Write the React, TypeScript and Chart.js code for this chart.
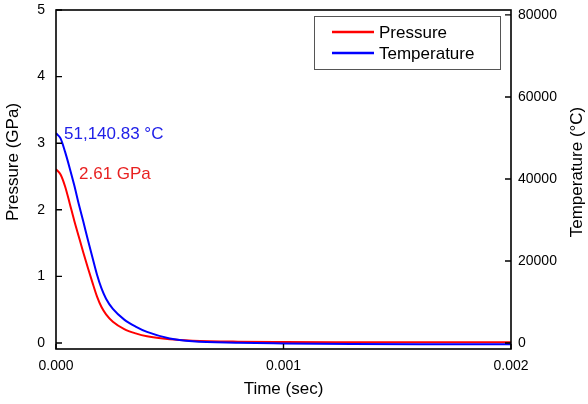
import React, { useEffect, useRef } from "react";
import { Chart, registerables } from "chart.js";

Chart.register(...registerables);

// ---- data ----
const timeSec = [
  0, 0.00002, 0.00004, 0.00006, 0.00008, 0.0001, 0.00012, 0.00014, 0.00016,
  0.00018, 0.0002, 0.00022, 0.00025, 0.0003, 0.00035, 0.0004, 0.0005, 0.0006,
  0.0008, 0.001, 0.0013, 0.0016, 0.002,
];
const pressureGPa = [
  2.61, 2.53, 2.35, 2.1, 1.84, 1.6, 1.36, 1.13, 0.91, 0.7, 0.54, 0.43, 0.32,
  0.21, 0.145, 0.1, 0.055, 0.035, 0.02, 0.015, 0.012, 0.01, 0.01,
];
const temperatureC = [
  51140.83, 49900, 46600, 42700, 38500, 33900, 29600, 25200, 20900, 16700,
  13300, 10800, 8300, 5700, 4000, 2700, 1100, 400, 50, -100, -250, -300, -300,
];
const timeTicks = [0, 0.001, 0.002];
const pressureTicks = [0, 1, 2, 3, 4, 5];
const temperatureTicks = [0, 20000, 40000, 60000, 80000];
const seriesLabels = ["Pressure", "Temperature"];
const axisTitles = {
  x: "Time (sec)",
  y: "Pressure (GPa)",
  y2: "Temperature (\u00B0C)",
};

const FONT = "'Liberation Sans', Arial, sans-serif";
const RED = "#ff0000";
const BLUE = "#0000ff";

const zeroPad = (s: any) => {
  s.paddingTop = 0;
  s.paddingBottom = 0;
  s.paddingLeft = 0;
  s.paddingRight = 0;
};

const overlayPlugin = {
  id: "overlay",
  afterDatasetsDraw(chart: any) {
    const { ctx, chartArea, scales } = chart;
    const { left, right, top, bottom } = chartArea;
    ctx.save();
    // frame
    ctx.strokeStyle = "#000";
    ctx.lineWidth = 1.6;
    ctx.strokeRect(left, top, right - left, bottom - top);

    // inward ticks
    const tl = 6;
    ctx.lineWidth = 1.4;
    ctx.beginPath();
    scales.y.ticks.forEach((t: any) => {
      const py = scales.y.getPixelForValue(t.value);
      ctx.moveTo(left, py);
      ctx.lineTo(left + tl, py);
    });
    scales.y2.ticks.forEach((t: any) => {
      const py = scales.y2.getPixelForValue(t.value);
      ctx.moveTo(right, py);
      ctx.lineTo(right - tl, py);
    });
    scales.x.ticks.forEach((t: any) => {
      const px = scales.x.getPixelForValue(t.value);
      ctx.moveTo(px, bottom);
      ctx.lineTo(px, bottom - tl + 1);
    });
    ctx.stroke();

    // peak annotations
    ctx.font = `17px ${FONT}`;
    ctx.textBaseline = "middle";
    ctx.textAlign = "left";
    const tPeak = temperatureC[0];
    const pPeak = pressureGPa[0];
    const bx = scales.x.getPixelForValue(timeSec[0]);
    const by = scales.y2.getPixelForValue(tPeak);
    ctx.fillStyle = "#2020e8";
    ctx.fillText(
      tPeak.toLocaleString("en-US", { minimumFractionDigits: 2, maximumFractionDigits: 2 }) +
        " \u00B0C",
      bx + 8,
      by + 1
    );
    const ry = scales.y.getPixelForValue(pPeak);
    ctx.fillStyle = "#e82020";
    ctx.fillText(pPeak.toFixed(2) + " GPa", bx + 23, ry + 5);

    // legend
    const lx = right - 197;
    const ly = top + 6;
    const lw = 186;
    const lh = 53;
    ctx.fillStyle = "#fff";
    ctx.fillRect(lx, ly, lw, lh);
    ctx.strokeStyle = "#555";
    ctx.lineWidth = 1;
    ctx.strokeRect(lx + 0.5, ly + 0.5, lw, lh);
    chart.data.datasets.forEach((ds: any, i: number) => {
      const yy = ly + 16 + i * 21;
      ctx.strokeStyle = ds.borderColor;
      ctx.lineWidth = 2.5;
      ctx.beginPath();
      ctx.moveTo(lx + 18, yy);
      ctx.lineTo(lx + 60, yy);
      ctx.stroke();
      ctx.fillStyle = "#000";
      ctx.font = `17px ${FONT}`;
      ctx.textAlign = "left";
      ctx.textBaseline = "middle";
      ctx.fillText(ds.label, lx + 65, yy + 1);
    });

    // axis titles
    ctx.fillStyle = "#000";
    ctx.font = `17px ${FONT}`;
    ctx.textAlign = "center";
    ctx.textBaseline = "middle";
    ctx.fillText(axisTitles.x, (left + right) / 2, 389);
    ctx.save();
    ctx.translate(13, 162);
    ctx.rotate(-Math.PI / 2);
    ctx.fillText(axisTitles.y, 0, 0);
    ctx.restore();
    ctx.save();
    ctx.translate(577, 172);
    ctx.rotate(-Math.PI / 2);
    ctx.fillText(axisTitles.y2, 0, 0);
    ctx.restore();

    ctx.restore();
  },
};

export default function App() {
  const ref = useRef<HTMLCanvasElement | null>(null);
  useEffect(() => {
    if (!ref.current) return;
    const tickFont = { family: FONT, size: 14 };
    const chart = new Chart(ref.current, {
      type: "line",
      data: {
        datasets: [
          {
            label: seriesLabels[0],
            data: timeSec.map((t, i) => ({ x: t, y: pressureGPa[i] })),
            borderColor: RED,
            borderWidth: 2,
            pointRadius: 0,
            cubicInterpolationMode: "monotone",
            yAxisID: "y",
            order: 1,
          },
          {
            label: seriesLabels[1],
            data: timeSec.map((t, i) => ({ x: t, y: temperatureC[i] })),
            borderColor: BLUE,
            borderWidth: 2,
            pointRadius: 0,
            cubicInterpolationMode: "monotone",
            yAxisID: "y2",
            order: 0,
          },
        ],
      },
      plugins: [overlayPlugin],
      options: {
        animation: false,
        responsive: false,
        layout: { padding: { top: 10, left: 0, right: 0, bottom: 0 } },
        plugins: { legend: { display: false }, tooltip: { enabled: false } },
        scales: {
          x: {
            type: "linear",
            min: 0,
            max: 0.002,
            grid: { display: false, drawTicks: false },
            border: { display: false },
            afterBuildTicks: (s: any) => {
              s.ticks = timeTicks.map((v) => ({ value: v }));
            },
            afterFit: (s: any) => {
              s.height = 55;
              zeroPad(s);
            },
            ticks: {
              font: tickFont,
              color: "#000",
              padding: 9,
              maxRotation: 0,
              callback: (v: any) => Number(v).toFixed(3),
            },
          },
          y: {
            type: "linear",
            position: "left",
            min: -0.09,
            max: 5,
            grid: { display: false, drawTicks: false },
            border: { display: false },
            afterBuildTicks: (s: any) => {
              s.ticks = pressureTicks.map((v) => ({ value: v }));
            },
            afterFit: (s: any) => {
              s.width = 56;
              zeroPad(s);
            },
            ticks: {
              font: tickFont,
              color: "#000",
              padding: 11,
              callback: (v: any) => String(v),
            },
          },
          y2: {
            type: "linear",
            position: "right",
            min: -1460,
            max: 81200,
            grid: { display: false, drawTicks: false },
            border: { display: false },
            afterBuildTicks: (s: any) => {
              s.ticks = temperatureTicks.map((v) => ({ value: v }));
            },
            afterFit: (s: any) => {
              s.width = 77;
              zeroPad(s);
            },
            ticks: {
              font: tickFont,
              color: "#000",
              padding: 7,
              callback: (v: any) => String(v),
            },
          },
        },
      },
    } as any);
    return () => chart.destroy();
  }, []);
  return (
    <div style={{ position: "fixed", left: 0, top: 0, width: 588, height: 404, background: "#fff" }}>
      <canvas ref={ref} width={588} height={404} style={{ display: "block" }} />
    </div>
  );
}
